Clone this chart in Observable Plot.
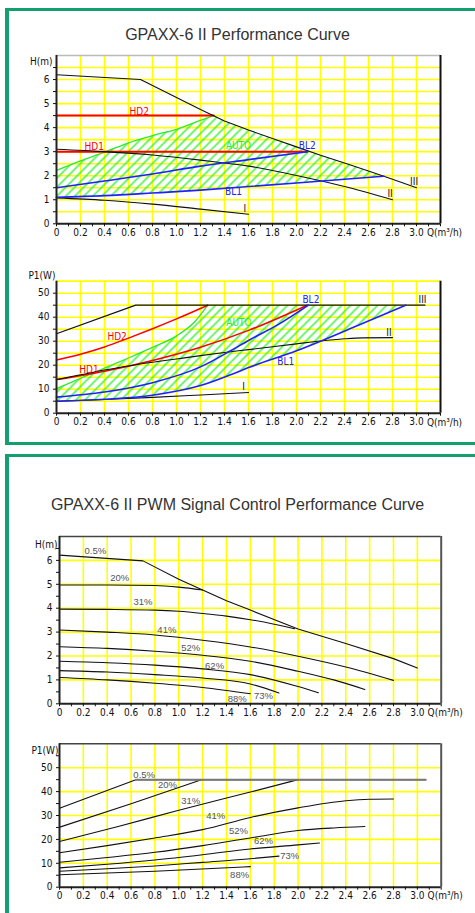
<!DOCTYPE html>
<html><head><meta charset="utf-8">
<script src="https://cdn.jsdelivr.net/npm/d3@7"></script>
<script src="https://cdn.jsdelivr.net/npm/@observablehq/plot@0.6"></script>
<style>
html,body{margin:0;padding:0;background:#fff;width:475px;height:913px;overflow:hidden;}
#page{position:relative;width:475px;height:913px;overflow:hidden;}
.panel{position:absolute;left:5px;width:520px;border-style:solid;border-color:#14a06e;box-sizing:border-box;}
.title{position:absolute;left:0;width:475px;text-align:center;font-family:"Liberation Sans",Arial,sans-serif;font-size:16px;line-height:16px;color:#333;white-space:nowrap;}
.chart{position:absolute;left:0;}
</style></head>
<body>
<svg width="0" height="0" style="position:absolute"><defs>
<pattern id="hatch" patternUnits="userSpaceOnUse" width="9" height="9">
<path d="M-2,2 L2,-2 M0,9 L9,0 M7,11 L11,7" stroke="#2ef02e" stroke-width="1.4" fill="none"/>
</pattern></defs></svg>
<div id="page">
  <div class="panel" style="top:8px;height:437px;border-width:3.5px 4px 3.5px 4px;"></div>
  <div class="panel" style="top:454px;height:480px;border-width:3.5px 4px 3.5px 4px;"></div>
  <div class="title" style="top:27px;">GPAXX-6 II Performance Curve</div>
  <div class="title" style="top:497px;">GPAXX-6 II PWM Signal Control Performance Curve</div>
  <div class="chart" id="c1" style="top:45px;"></div>
  <div class="chart" id="c2" style="top:268px;"></div>
  <div class="chart" id="c3" style="top:526px;"></div>
  <div class="chart" id="c4" style="top:733px;"></div>
</div>
<script>
// ---------- Chart 1: H(m) vs Q(m3/h) ----------
const hIII = [[0,6.2],[0.7,6.0],[1.0,5.25],[1.2,4.75],[1.4,4.28],[1.6,3.9],[1.8,3.55],[2.0,3.2],[2.2,2.85],[2.4,2.53],[2.6,2.2],[2.8,1.85],[3.0,1.5]];
const hII = [[0,3.1],[0.4,3.0],[0.8,2.86],[1.2,2.65],[1.6,2.4],[2.0,2.01],[2.4,1.55],[2.8,1.0]];
const hI = [[0,1.08],[0.4,0.98],[0.8,0.82],[1.2,0.61],[1.6,0.4]];
const hHD2 = [[0,4.5],[1.31,4.5]];
const hHD1 = [[0,3.0],[2.09,3.0]];
const hBL2 = [[0,1.5],[0.4,1.78],[0.8,2.07],[1.2,2.4],[1.6,2.67],[2.09,3.0]];
const hBL1 = [[0,1.1],[0.4,1.17],[0.8,1.28],[1.2,1.4],[1.6,1.55],[2.0,1.7],[2.4,1.85],[2.73,1.98]];
const hAUTO = [[0,2.22],[0.2,2.62],[0.4,2.98],[0.6,3.37],[0.8,3.67],[1.0,3.93],[1.2,4.3],[1.31,4.5]];
const h_labelText = ["HD2","HD1","AUTO","BL2","BL1","III","II","I"];
const h_labelQ = [0.69,0.315,1.517,2.09,1.475,2.98,2.78,1.57];
const h_labelH = [4.64,3.19,3.26,3.24,1.33,1.76,1.26,0.64];

// ---------- Chart 2: P1(W) vs Q(m3/h) ----------
const pIII = [[0,33.1],[0.66,45],[3.07,45]];
const pII = [[0,14],[0.2,16],[0.4,18],[0.6,19.7],[0.8,21.2],[1.0,22.6],[1.2,24],[1.4,25.3],[1.6,26.5],[1.8,27.7],[2.0,28.9],[2.2,30.1],[2.4,31],[2.55,31.4],[2.8,31.5]];
const pI = [[0,5],[0.4,5.7],[0.8,6.6],[1.2,7.6],[1.6,8.6]];
const pHD2 = [[0,22.2],[0.2,24.6],[0.4,27.6],[0.6,31.3],[0.8,35.2],[1.0,39.3],[1.26,45]];
const pHD1 = [[0,14],[0.4,17.5],[0.8,22],[1.2,27.5],[1.6,34.5],[2.09,45]];
const pBL2 = [[0,6.7],[0.4,8.8],[0.8,12.7],[1.2,19.3],[1.45,26],[1.6,30.3],[1.85,37],[2.1,45]];
const pBL1 = [[0,5],[0.4,5.8],[0.8,7.5],[1.2,11.5],[1.45,16],[1.6,19],[2.0,26],[2.2,30],[2.5,36.3],[2.91,45]];
const pAUTO = [[0,10.2],[0.2,14.5],[0.4,18.8],[0.6,23],[0.8,27.4],[1.0,32.2],[1.15,38],[1.26,45]];
const p_labelText = ["HD2","HD1","AUTO","BL2","BL1","III","II","I"];
const p_labelQ = [0.505,0.27,1.52,2.12,1.91,3.05,2.77,1.56];
const p_labelP = [32.0,18.1,37.5,47.2,21.6,47.2,33.3,10.8];

// ---------- Chart 3: PWM H(m) ----------
const pwmLabels = ["0.5%","20%","31%","41%","52%","62%","73%","88%"];
const pwmH_05 = [[0,6.22],[0.7,5.98],[1.0,5.21],[1.2,4.76],[1.4,4.31],[1.6,3.92],[2.0,3.13],[2.4,2.52],[2.8,1.89],[3.0,1.5]];
const pwmH_20 = [[0,4.97],[0.4,4.97],[0.8,4.95],[1.0,4.88],[1.2,4.76]];
const pwmH_31 = [[0,3.96],[0.4,3.95],[0.8,3.92],[1.0,3.87],[1.2,3.78],[1.4,3.67],[1.6,3.52],[1.8,3.33],[1.97,3.14]];
const pwmH_41 = [[0,3.09],[0.4,3.0],[0.8,2.88],[1.2,2.66],[1.6,2.38],[2.0,1.99],[2.4,1.54],[2.8,0.98]];
const pwmH_52 = [[0,2.39],[0.4,2.32],[0.8,2.2],[1.2,2.03],[1.6,1.78],[2.0,1.36],[2.3,1.0],[2.56,0.6]];
const pwmH_62 = [[0,1.78],[0.4,1.72],[0.8,1.62],[1.2,1.46],[1.6,1.22],[2.0,0.72],[2.17,0.46]];
const pwmH_73 = [[0,1.39],[0.4,1.33],[0.8,1.22],[1.2,1.08],[1.6,0.83],[1.84,0.45]];
const pwmH_88 = [[0,1.1],[0.4,1.0],[0.8,0.86],[1.2,0.68],[1.6,0.42]];
const pwmH_labelQ = [0.30,0.505,0.70,0.90,1.10,1.30,1.71,1.49];
const pwmH_labelH = [6.4,5.25,4.27,3.1,2.35,1.57,0.31,0.22];

// ---------- Chart 4: PWM P1(W) ----------
const pwmP_05 = [[0,33],[0.64,45],[3.07,45]];
const pwmP_20 = [[0,25.1],[0.6,34.9],[1.19,45]];
const pwmP_31 = [[0,19.1],[0.5,25.5],[1.0,32.2],[1.6,39.8],[2.0,45]];
const pwmP_41 = [[0,14.4],[0.4,17.4],[0.8,20.6],[1.2,24.1],[1.6,29.2],[2.0,33.2],[2.4,36.2],[2.6,36.8],[2.8,36.9]];
const pwmP_52 = [[0,10.4],[0.4,12.4],[0.8,14.6],[1.2,17.4],[1.6,20.6],[2.0,23.7],[2.3,24.8],[2.56,25.4]];
const pwmP_62 = [[0,8.1],[0.4,9.6],[0.8,11.4],[1.2,13.6],[1.6,16.0],[2.0,17.7],[2.18,18.5]];
const pwmP_73 = [[0,6.7],[0.4,7.7],[0.8,8.9],[1.2,10.4],[1.6,11.9],[1.84,13.0]];
const pwmP_88 = [[0,5.2],[0.8,6.7],[1.6,8.6]];
const pwmP_labelQ = [0.71,0.905,1.1,1.31,1.5,1.71,1.93,1.51];
const pwmP_labelP = [47.1,42.9,35.9,29.8,23.4,19.5,13.1,5.3];

// ---------- axes ----------
const xTicks = d3.range(0, 33).map(i => i / 10);        // ticks every 0.1
const xGrid = d3.range(1, 16).map(i => i / 5);          // grid every 0.2
const xFmt = d => { const k = Math.round(d * 10); return (k % 2 === 0 && k <= 30) ? (k === 0 ? "0" : (k / 10).toFixed(1)) : ""; };

// ---------- styles ----------
const NARROW = '"Liberation Sans Narrow","DejaVu Sans Condensed","Arial Narrow",sans-serif';
const YEL = "#ffff00", GREEN = "#2ee82e", RED = "#ff0000", BLUE = "#2020ff", INK = "#111";
const labelColor = {HD2: RED, HD1: RED, AUTO: GREEN, BL2: BLUE, BL1: BLUE, III: INK, II: INK, I: INK};
const X = d => d[0], Y = d => d[1];

function curve(data, stroke, w, curveType) {
  return Plot.line(data, {x: X, y: Y, stroke, strokeWidth: w, curve: curveType || "linear"});
}
function labels(texts, qs, vs, colorOf, font, size) {
  return texts.map((t, i) => Plot.text([t], {x: () => qs[i], y: () => vs[i], text: d => d,
    fill: colorOf(t), fontFamily: font, fontSize: size}));
}
function chart(cfg) {
  return Plot.plot({
    width: 475, height: cfg.height,
    marginTop: cfg.mt, marginBottom: cfg.mb, marginLeft: cfg.ml, marginRight: cfg.mr,
    x: {domain: [0, 3.2]}, y: {domain: [0, cfg.ymax]},
    style: {fontFamily: NARROW, fontSize: "10px", background: "transparent", overflow: "visible", color: INK},
    marks: [
      Plot.ruleX(xGrid, {stroke: YEL, strokeWidth: 1.6}),
      Plot.ruleY(cfg.gridY, {stroke: YEL, strokeWidth: 1.6}),
      ...cfg.marks,
      Plot.ruleY([cfg.ymax], {stroke: cfg.topStroke, strokeWidth: cfg.topW}),
      Plot.ruleX([3.2], {stroke: cfg.rightStroke, strokeWidth: 2}),
      Plot.ruleX([0], {stroke: "#222", strokeWidth: 2}),
      Plot.ruleY([0], {stroke: "#222", strokeWidth: 2}),
      Plot.axisX(xTicks, {tickSize: 3, tickPadding: 2, tickFormat: xFmt, label: null, fontSize: 10, color: INK}),
      Plot.axisY(cfg.yTicks, {tickSize: 3, tickPadding: 4, tickFormat: cfg.yFmt, label: null, fontSize: 10, color: INK}),
      Plot.text([cfg.yName], {x: () => 0, y: () => cfg.yNamePos, dx: cfg.yNameDx, textAnchor: "end", text: d => d, fill: INK, fontSize: 10}),
      Plot.text(["Q(m³/h)"], {x: () => 3.2, y: () => 0, dx: 4, dy: cfg.qDy, textAnchor: "middle", text: d => d, fill: INK, fontSize: 10})
    ]
  });
}

// Chart 1
const autoPolyH = [...hAUTO, ...hIII.filter(d => d[0] > 1.31 && d[0] < 2.73), ...hBL1.slice().reverse()];
document.getElementById("c1").append(chart({
  height: 200, mt: 10, mb: 21.7, ml: 56, mr: 35, ymax: 7,
  gridY: d3.range(1, 14).map(i => i / 2),
  yTicks: d3.range(0, 14).map(i => i / 2),
  yFmt: d => Number.isInteger(d) ? String(d) : "",
  topStroke: "#bbb", topW: 1.5, rightStroke: "#111",
  yName: "H(m)", yNamePos: 6.72, yNameDx: -4, qDy: 9,
  marks: [
    Plot.line(autoPolyH, {x: X, y: Y, fill: "url(#hatch)", stroke: "none"}),
    curve(hAUTO, GREEN, 1.3, "monotone-x"),
    curve(hHD2, RED, 2), curve(hHD1, RED, 2),
    curve(hIII, INK, 1.1), curve(hII, INK, 1.1, "monotone-x"), curve(hI, INK, 1.1, "monotone-x"),
    curve(hBL2, BLUE, 1.6, "monotone-x"), curve(hBL1, BLUE, 1.6, "monotone-x"),
    ...labels(h_labelText, h_labelQ, h_labelH, t => labelColor[t], NARROW, 10)
  ]
}));

// Chart 2
const autoPolyP = [...pAUTO, [pBL1[pBL1.length - 1][0], 45], ...pBL1.slice().reverse()];
document.getElementById("c2").append(chart({
  height: 168, mt: 12.7, mb: 23.3, ml: 56, mr: 35, ymax: 55,
  gridY: d3.range(1, 12).map(i => i * 5),
  yTicks: d3.range(0, 11).map(i => i * 5),
  yFmt: d => d % 10 === 0 ? String(d) : "",
  topStroke: YEL, topW: 1.6, rightStroke: "#111",
  yName: "P1(W)", yNamePos: 57.2, yNameDx: -1, qDy: 10,
  marks: [
    Plot.line(autoPolyP, {x: X, y: Y, fill: "url(#hatch)", stroke: "none"}),
    curve(pAUTO, GREEN, 1.3, "monotone-x"),
    curve(pHD2, RED, 1.5, "monotone-x"), curve(pHD1, RED, 1.5, "monotone-x"),
    curve(pIII, INK, 1.3), curve(pII, INK, 1.1, "monotone-x"), curve(pI, INK, 1.1, "monotone-x"),
    curve(pBL2, BLUE, 1.6, "monotone-x"), curve(pBL1, BLUE, 1.6, "monotone-x"),
    ...labels(p_labelText, p_labelQ, p_labelP, t => labelColor[t], NARROW, 10)
  ]
}));

// Chart 3
const PCT_FONT = '"Liberation Sans",Arial,sans-serif';
document.getElementById("c3").append(chart({
  height: 200, mt: 10, mb: 22.7, ml: 59, mr: 34.3, ymax: 7,
  gridY: d3.range(1, 7),
  yTicks: d3.range(0, 14).map(i => i / 2),
  yFmt: d => Number.isInteger(d) ? String(d) : "",
  topStroke: "#444", topW: 1.5, rightStroke: "#555",
  yName: "H(m)", yNamePos: 6.67, yNameDx: -2, qDy: 9,
  marks: [
    ...[pwmH_05, pwmH_20, pwmH_31, pwmH_41, pwmH_52, pwmH_62, pwmH_73, pwmH_88].map((s, i) => curve(s, INK, 1.1, i === 0 ? "linear" : "monotone-x")),
    ...labels(pwmLabels, pwmH_labelQ, pwmH_labelH, () => "#555", PCT_FONT, 9.5)
  ]
}));

// Chart 4
document.getElementById("c4").append(chart({
  height: 180, mt: 10.3, mb: 26.3, ml: 59, mr: 34.3, ymax: 60,
  gridY: d3.range(1, 6).map(i => i * 10),
  yTicks: d3.range(0, 12).map(i => i * 5),
  yFmt: d => d % 10 === 0 ? String(d) : "",
  topStroke: "#444", topW: 1.5, rightStroke: "#555",
  yName: "P1(W)", yNamePos: 57.1, yNameDx: -1, qDy: 9,
  marks: [
    ...[pwmP_05, pwmP_20, pwmP_31, pwmP_41, pwmP_52, pwmP_62, pwmP_73, pwmP_88].map((s, i) => curve(s, INK, 1.1, i === 0 ? "linear" : "monotone-x")),
    curve(pwmP_05.filter(d => d[1] >= 45), "#777", 2),
    ...labels(pwmLabels, pwmP_labelQ, pwmP_labelP, () => "#555", PCT_FONT, 9.5)
  ]
}));
</script>
</body></html>
